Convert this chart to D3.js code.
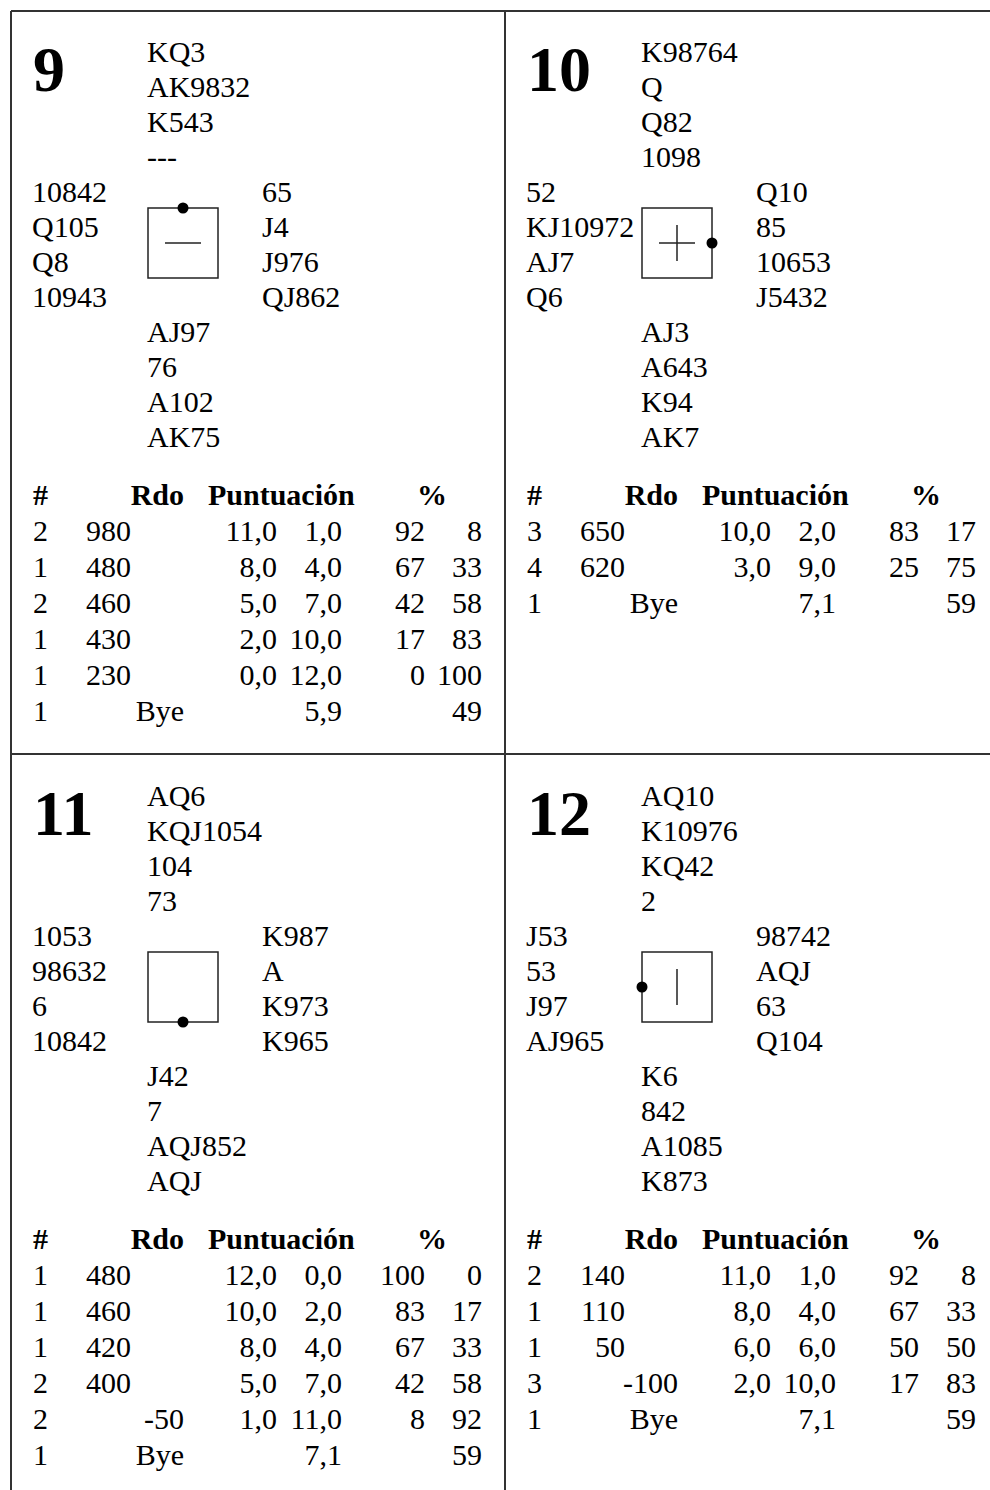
<!DOCTYPE html>
<html><head><meta charset="utf-8">
<script src="https://cdn.jsdelivr.net/npm/d3@7"></script>
<style>html,body{margin:0;padding:0;background:#fff;}svg{display:block;}</style>
</head><body>
<script>
// ---------- DATA ----------
const boards = [9, 10, 11, 12];
const dealers = ["N", "E", "S", "W"];
const vulnerability = ["EW", "Both", "None", "NS"];
const northHands = [["KQ3","AK9832","K543","---"],["K98764","Q","Q82","1098"],["AQ6","KQJ1054","104","73"],["AQ10","K10976","KQ42","2"]];
const westHands  = [["10842","Q105","Q8","10943"],["52","KJ10972","AJ7","Q6"],["1053","98632","6","10842"],["J53","53","J97","AJ965"]];
const eastHands  = [["65","J4","J976","QJ862"],["Q10","85","10653","J5432"],["K987","A","K973","K965"],["98742","AQJ","63","Q104"]];
const southHands = [["AJ97","76","A102","AK75"],["AJ3","A643","K94","AK7"],["J42","7","AQJ852","AQJ"],["K6","842","A1085","K873"]];
const headers = ["#", "Rdo", "Puntuación", "%"];
// results per board (null = empty cell)
const resultCounts = [[2,1,2,1,1,1],[3,4,1],[1,1,1,2,2,1],[2,1,1,3,1]];
const resultScores = [[980,480,460,430,230,"Bye"],[650,620,"Bye"],[480,460,420,400,-50,"Bye"],[140,110,50,-100,"Bye"]];
const nsPoints = [[11,8,5,2,0,null],[10,3,null],[12,10,8,5,1,null],[11,8,6,2,null]];
const ewPoints = [[1,4,7,10,12,5.9],[2,9,7.1],[0,2,4,7,11,7.1],[1,4,6,10,7.1]];
const nsPercent = [[92,67,42,17,0,null],[83,25,null],[100,83,67,42,8,null],[92,67,50,17,null]];
const ewPercent = [[8,33,58,83,100,49],[17,75,59],[0,17,33,58,92,59],[8,33,50,83,59]];

// ---------- LAYOUT ----------
const W = 990, H = 1490;
const svg = d3.select("body").append("svg").attr("width", W).attr("height", H);
const FONT = "'Liberation Serif','Times New Roman',serif";
const FS = 30;

const panelX = d3.scaleOrdinal().domain([0,1]).range([0, 494]);
const panelY = d3.scaleOrdinal().domain([0,1]).range([0, 744]);
const yHand = d3.scaleLinear().domain([0, 11]).range([62, 447]);
const yRow = d3.scaleLinear().domain([0, 6]).range([505, 721]);
const fmt1 = v => d3.format(".1f")(v).replace(".", ",");

// grid lines
const lines = [[11,11,990,11],[11,11,11,H],[11,754,990,754],[505,11,505,H]];
svg.selectAll("line.grid").data(lines).enter().append("line")
  .attr("class","grid").attr("x1",d=>d[0]).attr("y1",d=>d[1]).attr("x2",d=>d[2]).attr("y2",d=>d[3])
  .attr("stroke","#333").attr("stroke-width",2);

boards.forEach((b, i) => {
  const g = svg.append("g").attr("transform", `translate(${panelX(i%2)},${panelY(Math.floor(i/2))})`);
  const txt = (x, y, s, opts={}) => g.append("text").attr("x", x).attr("y", y).text(s)
      .attr("font-family", FONT).attr("font-size", opts.size || FS)
      .attr("font-weight", opts.bold ? "bold" : "normal")
      .attr("text-anchor", opts.anchor || "start").attr("fill", "#000");

  txt(33, 91, String(b), {size: 64, bold: true});
  northHands[i].forEach((s, k) => txt(147, yHand(k), s));
  westHands[i].forEach((s, k) => txt(32, yHand(4+k), s));
  eastHands[i].forEach((s, k) => txt(262, yHand(4+k), s));
  southHands[i].forEach((s, k) => txt(147, yHand(8+k), s));

  // compass box
  const bx = 148, by = 208, bs = 70, cx = bx + bs/2, cy = by + bs/2, h = 18;
  g.append("rect").attr("x", bx).attr("y", by).attr("width", bs).attr("height", bs)
    .attr("fill","none").attr("stroke","#222").attr("stroke-width",1.5);
  const v = vulnerability[i];
  if (v === "EW" || v === "Both")
    g.append("line").attr("x1", cx-h).attr("x2", cx+h).attr("y1", cy).attr("y2", cy).attr("stroke","#222").attr("stroke-width",1.5);
  if (v === "NS" || v === "Both")
    g.append("line").attr("x1", cx).attr("x2", cx).attr("y1", cy-h).attr("y2", cy+h).attr("stroke","#222").attr("stroke-width",1.5);
  const dpos = {N:[cx,by], E:[bx+bs,cy], S:[cx,by+bs], W:[bx,cy]}[dealers[i]];
  g.append("circle").attr("cx", dpos[0]).attr("cy", dpos[1]).attr("r", 5.5).attr("fill","#000");

  // table header
  txt(33, yRow(0), headers[0], {bold: true});
  txt(184, yRow(0), headers[1], {bold: true, anchor: "end"});
  txt(208, yRow(0), headers[2], {bold: true});
  txt(432, yRow(0), headers[3], {bold: true, anchor: "middle"});

  resultCounts[i].forEach((c, r) => {
    const y = yRow(r+1);
    txt(33, y, String(c));
    const sc = resultScores[i][r];
    if (sc === "Bye" || sc < 0) txt(184, y, String(sc), {anchor: "end"});
    else txt(131, y, String(sc), {anchor: "end"});
    if (nsPoints[i][r] !== null) txt(277, y, fmt1(nsPoints[i][r]), {anchor: "end"});
    if (ewPoints[i][r] !== null) txt(342, y, fmt1(ewPoints[i][r]), {anchor: "end"});
    if (nsPercent[i][r] !== null) txt(425, y, String(nsPercent[i][r]), {anchor: "end"});
    if (ewPercent[i][r] !== null) txt(482, y, String(ewPercent[i][r]), {anchor: "end"});
  });
});
</script>
</body></html>
